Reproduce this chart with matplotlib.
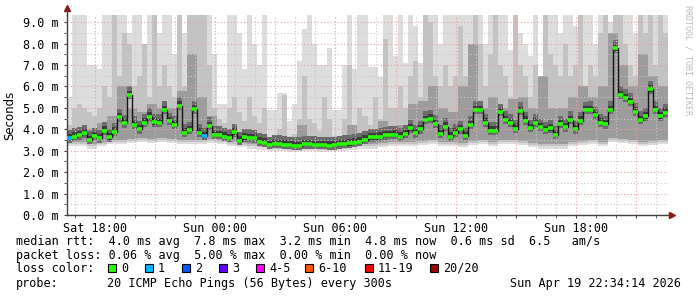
import matplotlib
matplotlib.use('Agg')
import matplotlib.pyplot as plt
import matplotlib.dates as mdates
from matplotlib.patches import Rectangle
from matplotlib.ticker import FuncFormatter, MultipleLocator
import numpy as np
import pandas as pd

# median rtt in ms, one value every 15 min starting Sat 16:36
median = [3.58, 3.65, 3.72, 3.81, 3.50, 3.68, 3.58, 3.93, 3.62, 3.89,
          4.56, 4.28, 5.60, 4.20, 4.00, 4.31, 4.59, 4.32, 4.30, 4.90,
          4.38, 4.20, 5.10, 3.84, 3.96, 4.93, 3.84, 3.68, 4.15, 3.73,
          3.73, 3.65, 3.60, 3.85, 3.47, 3.62, 3.60, 3.58, 3.42, 3.37,
          3.26, 3.31, 3.31, 3.28, 3.26, 3.24, 3.22, 3.30, 3.30, 3.27,
          3.26, 3.26, 3.23, 3.25, 3.30, 3.31, 3.34, 3.38, 3.42, 3.52,
          3.62, 3.62, 3.65, 3.72, 3.73, 3.75, 3.65, 3.78, 4.04, 3.81,
          4.00, 4.43, 4.50, 4.25, 3.78, 4.12, 3.65, 3.84, 4.00, 3.68,
          4.20, 4.90, 4.90, 4.31, 3.93, 3.93, 4.80, 4.43, 4.30, 4.03,
          4.85, 4.40, 4.05, 4.31, 4.10, 3.96, 4.04, 3.73, 4.24, 4.09,
          4.43, 4.00, 4.40, 4.89, 4.90, 4.65, 4.31, 4.23, 4.90, 7.77,
          5.60, 5.46, 5.27, 4.82, 4.43, 4.60, 5.86, 4.90, 4.60, 4.78]

# lost pings (of 20) per step
loss = [0] * 120
loss[0] = 1
loss[27] = 1

# smoke, every 15 min: slowest ping and the 90% ping
smoke_max = [5.5, 9.4, 9.4, 9.4, 7.0, 7.0, 6.8, 9.4, 9.4, 9.4,
             9.4, 9.4, 8.5, 9.4, 9.4, 8.0, 9.4, 9.4, 8.5, 9.4,
             9.4, 7.5, 9.4, 8.5, 9.4, 9.4, 9.4, 9.4, 9.4, 7.5,
             5.2, 5.2, 9.4, 9.4, 8.5, 6.8, 9.4, 8.0, 7.0, 9.4,
             4.9, 4.9, 5.7, 5.7, 4.4, 5.2, 7.2, 8.7, 9.4, 8.0,
             7.0, 7.0, 7.8, 4.9, 4.9, 7.0, 9.4, 6.8, 9.4, 9.4,
             6.9, 6.9, 6.45, 9.4, 9.4, 7.4, 9.4, 7.1, 9.4, 8.8,
             7.1, 9.4, 9.4, 9.4, 8.0, 9.4, 9.4, 9.4, 9.4, 9.4,
             9.4, 9.4, 9.4, 8.0, 9.4, 9.4, 9.4, 9.4, 7.7, 9.4,
             8.5, 8.0, 7.4, 9.4, 6.5, 9.4, 9.4, 9.4, 8.5, 9.4,
             9.4, 8.8, 9.4, 9.4, 9.4, 8.0, 9.4, 9.4, 9.0, 9.4,
             9.4, 9.4, 9.4, 8.5, 9.4, 9.4, 9.4, 9.4, 9.4, 9.4]
smoke_p90 = [4.2, 5.0, 5.2, 5.0, 4.8, 4.6, 5.0, 6.0, 5.5, 9.4,
             6.5, 8.5, 8.0, 6.0, 6.5, 8.0, 5.5, 9.4, 6.0, 7.0,
             6.0, 5.5, 9.4, 6.0, 9.4, 9.4, 9.4, 9.4, 7.0, 5.0,
             4.5, 4.3, 5.0, 5.5, 4.8, 4.4, 5.5, 4.6, 4.3, 5.0,
             3.6, 3.6, 4.0, 5.6, 3.7, 3.8, 4.5, 6.5, 4.5, 4.3,
             3.9, 5.5, 4.5, 3.7, 3.7, 4.5, 7.0, 4.2, 5.0, 4.6,
             4.2, 5.5, 4.5, 8.2, 5.0, 5.0, 6.0, 5.0, 6.5, 7.2,
             5.5, 9.4, 9.0, 6.5, 6.0, 7.0, 6.0, 6.5, 8.8, 6.5,
             7.0, 9.4, 8.0, 6.0, 7.5, 9.4, 7.0, 6.5, 5.5, 9.4,
             7.0, 6.5, 5.5, 7.0, 5.5, 9.4, 7.5, 7.0, 6.5, 8.0,
             6.5, 7.0, 9.4, 6.0, 7.0, 6.5, 8.5, 9.4, 6.0, 9.4,
             9.4, 8.0, 7.0, 6.5, 9.4, 8.5, 9.4, 7.0, 9.4, 8.5]

# smoke, every 30 min: fastest ping and the 75% ping
smoke_lo = [3.2, 3.2, 3.1, 3.2, 3.3, 3.3, 3.35, 3.4, 3.35, 3.4,
            3.35, 3.3, 3.3, 3.3, 3.35, 3.3, 3.2, 3.15, 3.1, 3.05,
            3.0, 3.0, 2.95, 3.0, 3.0, 2.95, 3.0, 3.0, 3.05, 3.1,
            3.1, 3.15, 3.2, 3.2, 3.2, 3.25, 3.3, 3.2, 3.2, 3.15,
            3.25, 3.3, 3.2, 3.3, 3.3, 3.25, 3.15, 3.1, 3.1, 3.1,
            3.2, 3.25, 3.3, 3.2, 3.4, 3.35, 3.3, 3.2, 3.25, 3.3]
smoke_p75 = [3.9, 4.0, 4.0, 4.3, 4.6, 6.0, 5.0, 4.8, 5.2, 5.0,
             5.0, 5.8, 7.5, 5.5, 4.6, 4.0, 3.9, 3.8, 3.7, 3.8,
             3.45, 3.5, 3.6, 4.2, 3.5, 3.6, 3.6, 3.5, 4.2, 3.7,
             3.9, 4.4, 4.0, 4.2, 5.2, 5.3, 6.0, 5.0, 4.8, 6.0,
             8.0, 5.0, 5.5, 5.0, 5.4, 5.5, 5.0, 6.5, 5.0, 5.0,
             5.5, 6.0, 5.5, 6.0, 8.5, 7.0, 6.0, 7.5, 6.5, 6.0]

loss_colors = {0: '#26ff00', 1: '#00b8ff', 2: '#0059ff', 3: '#5e00ff',
               5: '#ff00ff', 10: '#ff5500', 19: '#ff0000', 20: '#a10000'}
legend_labels = ['0', '1', '2', '3', '4-5', '6-10', '11-19', '20/20']
legend_keys = [0, 1, 2, 3, 5, 10, 19, 20]

W, H = 697, 297
mono = 'DejaVu Sans Mono'
fig = plt.figure(figsize=(W / 100, H / 100), dpi=100)
fig.patch.set_facecolor('white')
ax = fig.add_axes([67 / W, (H - 215) / H, 601 / W, 200 / H])

tt = pd.date_range('2026-04-18 16:36', periods=len(median) + 1, freq='15min')
t, t_end = tt[:-1], tt[1:]
t2 = pd.date_range('2026-04-18 16:36', periods=len(smoke_lo) + 1, freq='30min')

def ext(a):
    a = np.asarray(a, dtype=float)
    return np.append(a, a[-1])

lo = np.array(smoke_lo)
lo15 = np.repeat(lo, 2)
ax.fill_between(tt, ext(lo15), ext(smoke_max), step='post', color='#dddddd', lw=0, zorder=1)
ax.fill_between(tt, ext(lo15 + 0.1), ext(smoke_p90), step='post', color='#c3c3c3', lw=0, zorder=1.1)
ax.fill_between(t2, ext(lo + 0.2), ext(smoke_p75), step='post', color='#9c9c9c', lw=0, zorder=1.2)
med = np.array(median)
ax.fill_between(tt, ext(med - 0.2), ext(med + 0.4), step='post',
                color='#6c6c6c', lw=0, zorder=1.3)
ax.fill_between(tt, ext(med - 0.1), ext(med + 0.2), step='post',
                color='#3c3c3c', lw=0, zorder=1.4)

ax.step(tt, ext(med), where='post', color='#151515', lw=1, zorder=3)
cols = [loss_colors[min(k for k in legend_keys if k >= l)] for l in loss]
ax.hlines(med, t, t_end, colors=cols, lw=2.6, zorder=4)

ax.set_ylim(0, 9.33)
ax.set_xlim(tt[0], tt[-1])
ax.yaxis.set_major_locator(MultipleLocator(1))
ax.yaxis.set_minor_locator(MultipleLocator(0.5))
ax.yaxis.set_major_formatter(FuncFormatter(lambda v, p: f'{v:.1f} m'))
ax.xaxis.set_major_locator(mdates.HourLocator(byhour=range(0, 24, 3)))
ax.xaxis.set_minor_locator(mdates.HourLocator())
ax.xaxis.set_major_formatter(FuncFormatter(
    lambda v, p: mdates.num2date(v).strftime('%a %H:%M') if mdates.num2date(v).hour % 6 == 0 else ''))

ax.set_axisbelow(False)
ax.grid(which='minor', color='#c8c8c8', ls=(0, (1, 2)), lw=0.8)
ax.grid(which='major', color='#eaa0a0', ls=(0, (1, 2)), lw=0.8)
ax.set_facecolor('white')
for s in ['top', 'right']:
    ax.spines[s].set_visible(False)
for s in ['left', 'bottom']:
    ax.spines[s].set_color('#404040')
    ax.spines[s].set_linewidth(1)
ax.tick_params(which='both', length=2, color='#404040', labelsize=8.5, pad=4)
ax.tick_params(axis='x', which='both', pad=3)
for lab in ax.get_xticklabels() + ax.get_yticklabels():
    lab.set_family(mono)

# axis arrows
ax.plot([0, 0], [1, 1.035], transform=ax.transAxes, color='#404040', lw=1, clip_on=False)
ax.plot([0], [1.035], transform=ax.transAxes, marker='^', ms=4.5, color='#8b1a1a', clip_on=False)
ax.plot([1, 1.006], [0, 0], transform=ax.transAxes, color='#404040', lw=1, clip_on=False)
ax.plot([1.006], [0], transform=ax.transAxes, marker='>', ms=4.5, color='#8b1a1a', clip_on=False)

def px(x, y):
    return x / W, 1 - y / H

fig.text(*px(10, 115), 'Seconds', rotation=90, ha='center', va='center', fontsize=8.5)
fig.text(*px(688, 5), 'RRDTOOL / TOBI OETIKER', rotation=270, ha='center', va='top',
         fontsize=6, family=mono, color='#bbbbbb')

fs = 8.5
fig.text(*px(16, 241), 'median rtt:  4.0 ms avg  7.8 ms max  3.2 ms min  4.8 ms now  0.6 ms sd  6.5   am/s',
         family=mono, fontsize=fs, va='center')
fig.text(*px(16, 256), 'packet loss: 0.06 % avg  5.00 % max  0.00 % min  0.00 % now',
         family=mono, fontsize=fs, va='center')
fig.text(*px(16, 268), 'loss color:', family=mono, fontsize=fs, va='center')
sq_x = [108, 145, 182, 219, 256, 305, 365, 430]
for x, k, lab in zip(sq_x, legend_keys, legend_labels):
    fig.patches.append(Rectangle(px(x, 272), 8 / W, 8 / H, transform=fig.transFigure,
                                 facecolor=loss_colors[k], edgecolor='black', lw=0.8))
    fig.text(*px(x + 13, 268), lab, family=mono, fontsize=fs, va='center')
fig.text(*px(16, 283), 'probe:', family=mono, fontsize=fs, va='center')
fig.text(*px(107, 283), '20 ICMP Echo Pings (56 Bytes) every 300s', family=mono, fontsize=fs, va='center')
fig.text(*px(681, 283), 'Sun Apr 19 22:34:14 2026', family=mono, fontsize=fs, va='center', ha='right')

fig.savefig('out.png', dpi=100, facecolor='white')
